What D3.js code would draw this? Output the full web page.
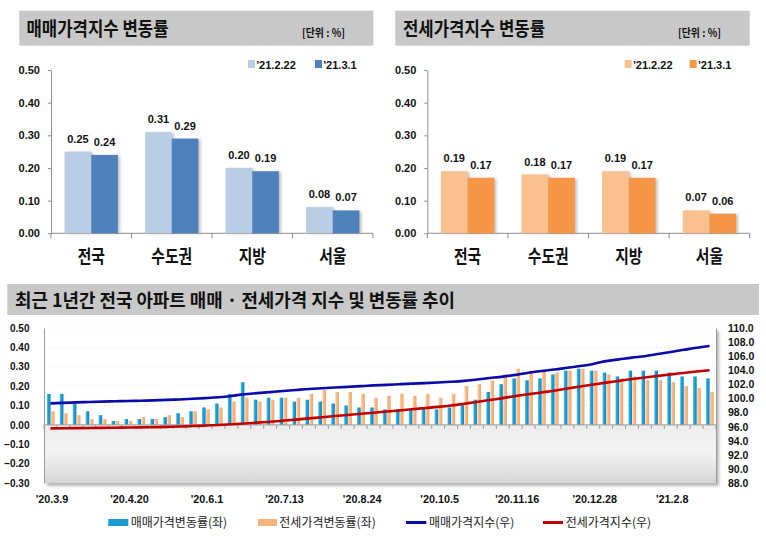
<!DOCTYPE html>
<html><head><meta charset="utf-8">
<script src="https://cdn.jsdelivr.net/npm/d3@7"></script>
<style>
body{margin:0;background:#fff;}
svg{display:block;font-family:"Liberation Sans",Arial,sans-serif;}
.kr{font-family:"Noto Sans CJK KR","Noto Sans",sans-serif;}
</style></head><body>
<svg id="c" width="766" height="538"></svg>
<script>
// ---------- data ----------
const regions = ["전국", "수도권", "지방", "서울"];
const periods = ["'21.2.22", "'21.3.1"];
const saleRatePrev = [0.25, 0.31, 0.20, 0.08];
const saleRateCur = [0.24, 0.29, 0.19, 0.07];
const jeonseRatePrev = [0.19, 0.18, 0.19, 0.07];
const jeonseRateCur = [0.17, 0.17, 0.17, 0.06];
const topTicks = [0, 0.1, 0.2, 0.3, 0.4, 0.5];

const weeks = ["'20.3.9","'20.3.16","'20.3.23","'20.3.30","'20.4.6","'20.4.13","'20.4.20","'20.4.27",
  "'20.5.4","'20.5.11","'20.5.18","'20.5.25","'20.6.1","'20.6.8","'20.6.15","'20.6.22","'20.6.29",
  "'20.7.6","'20.7.13","'20.7.20","'20.7.27","'20.8.3","'20.8.10","'20.8.17","'20.8.24","'20.8.31",
  "'20.9.7","'20.9.14","'20.9.21","'20.9.28","'20.10.5","'20.10.12","'20.10.19","'20.10.26",
  "'20.11.2","'20.11.9","'20.11.16","'20.11.23","'20.11.30","'20.12.7","'20.12.14","'20.12.21",
  "'20.12.28","'21.1.4","'21.1.11","'21.1.18","'21.1.25","'21.2.1","'21.2.8","'21.2.15","'21.2.22","'21.3.1"];
const weekTickLabels = ["'20.3.9","'20.4.20","'20.6.1","'20.7.13","'20.8.24","'20.10.5","'20.11.16","'20.12.28","'21.2.8"];
const saleWeekly = [0.16,0.16,0.11,0.07,0.05,0.02,0.03,0.03,0.03,0.04,0.06,0.07,0.09,0.11,0.16,0.22,
  0.13,0.14,0.14,0.12,0.13,0.12,0.11,0.10,0.09,0.09,0.08,0.08,0.08,0.09,0.08,0.09,0.11,0.13,0.17,0.21,
  0.24,0.23,0.24,0.26,0.28,0.29,0.28,0.27,0.25,0.28,0.28,0.28,0.27,0.25,0.25,0.24];
const jeonseWeekly = [0.07,0.06,0.05,0.03,0.03,0.02,0.02,0.04,0.03,0.05,0.04,0.07,0.08,0.09,0.12,0.14,
  0.12,0.13,0.14,0.14,0.16,0.18,0.17,0.17,0.16,0.14,0.15,0.16,0.15,0.16,0.14,0.16,0.20,0.21,0.23,0.26,
  0.29,0.28,0.28,0.27,0.28,0.29,0.28,0.26,0.24,0.25,0.23,0.23,0.22,0.20,0.19,0.17];
const saleIndex = [99.30,99.37,99.44,99.50,99.55,99.60,99.64,99.68,99.73,99.80,99.86,99.95,100.05,100.17,
  100.35,100.60,100.75,100.90,101.05,101.20,101.35,101.45,101.55,101.65,101.75,101.85,101.93,102.02,
  102.10,102.18,102.27,102.37,102.50,102.70,102.90,103.10,103.35,103.65,103.90,104.10,104.35,104.60,
  104.90,105.30,105.55,105.80,106.00,106.30,106.60,106.90,107.20,107.45];
const jeonseIndex = [95.75,95.77,95.79,95.81,95.83,95.85,95.87,95.90,95.93,95.97,96.02,96.08,96.15,96.23,
  96.33,96.45,96.57,96.70,96.85,97.00,97.17,97.33,97.50,97.66,97.82,97.98,98.14,98.30,98.47,98.64,98.80,
  99.00,99.25,99.50,99.78,100.05,100.35,100.60,100.85,101.10,101.40,101.70,101.98,102.25,102.50,102.75,
  102.98,103.20,103.42,103.62,103.82,104.00];
const leftTicks = [-0.3,-0.2,-0.1,0,0.1,0.2,0.3,0.4,0.5];
const rightTicks = [88,90,92,94,96,98,100,102,104,106,108,110];
const legendBottom = ["매매가격변동률(좌)","전세가격변동률(좌)","매매가격지수(우)","전세가격지수(우)"];

// ---------- setup ----------
const svg = d3.select("#c");
const defs = svg.append("defs");
function hGrad(id, stops){
  const g = defs.append("linearGradient").attr("id",id).attr("x1","0").attr("x2","1").attr("y1","0").attr("y2","0");
  stops.forEach(s=>g.append("stop").attr("offset",s[0]).attr("stop-color",s[1]));
}
function vGrad(id, stops){
  const g = defs.append("linearGradient").attr("id",id).attr("x1","0").attr("x2","0").attr("y1","0").attr("y2","1");
  stops.forEach(s=>g.append("stop").attr("offset",s[0]).attr("stop-color",s[1]));
}
hGrad("gBlue",[["0","#63cdf3"],["0.35","#1fa3d8"],["1","#1683bd"]]);
hGrad("gOrange",[["0","#fcd3ae"],["0.4","#f8b985"],["1","#f2a466"]]);
vGrad("gBelow",[["0","#ececec"],["0.45","#f3f3f3"],["1","#d6d6d6"]]);
const blur = defs.append("filter").attr("id","sh").attr("x","-10%").attr("y","-10%").attr("width","130%").attr("height","130%");
blur.append("feGaussianBlur").attr("stdDeviation",1.6);

// ---------- top panels ----------
function topPanel(o){
  const g = svg.append("g");
  g.append("rect").attr("x",o.boxX).attr("y",10.7).attr("width",o.boxW).attr("height",35).attr("fill","#c8c8c8");
  g.append("text").attr("class","kr").attr("x",o.titleX).attr("y",36).attr("font-size",19).attr("font-weight","bold")
    .attr("textLength",142).attr("lengthAdjust","spacingAndGlyphs").attr("fill","#111").text(o.title);
  g.append("text").attr("class","kr").attr("x",o.unitX).attr("y",36.5).attr("font-size",11).attr("font-weight","bold")
    .attr("textLength",43).attr("lengthAdjust","spacingAndGlyphs").attr("fill","#111").text("[단위 : %]");

  const x = d3.scaleBand().domain(regions).range([o.axisX,o.right]).paddingInner(0.338).paddingOuter(0.169);
  const xs = d3.scaleBand().domain(periods).range([0,x.bandwidth()]);
  const y = d3.scaleLinear().domain([0,0.5]).range([233.3,70]);

  const ya = g.append("g").attr("transform",`translate(${o.axisX},0)`)
    .call(d3.axisLeft(y).tickValues(topTicks).tickFormat(d3.format(".2f")).tickSize(3).tickSizeOuter(0).tickPadding(8));
  ya.select(".domain").attr("stroke","#8c8c8c");
  ya.selectAll(".tick line").attr("stroke","#8c8c8c");
  ya.selectAll(".tick text").attr("font-size",11).attr("font-weight","bold").attr("fill","#111")
    .attr("font-family","Liberation Sans, Arial, sans-serif");

  // x axis line and category boundary ticks
  g.append("line").attr("x1",o.axisX).attr("x2",o.right).attr("y1",y(0)).attr("y2",y(0)).attr("stroke","#8c8c8c");
  const step = x.step();
  g.selectAll("line.bt").data(d3.range(regions.length+1)).join("line").attr("class","bt")
    .attr("x1",i=>o.axisX+i*step).attr("x2",i=>o.axisX+i*step).attr("y1",y(0)).attr("y2",y(0)+5).attr("stroke","#8c8c8c");

  const data = [];
  periods.forEach((p,pi)=>regions.forEach((r,ri)=>data.push({p,r,v:o.values[pi][ri],c:o.colors[pi]})));
  // shadows
  g.selectAll("rect.sh").data(data).join("rect").attr("class","sh")
    .attr("x",d=>x(d.r)+xs(d.p)+2).attr("y",d=>y(d.v)+1).attr("width",xs.bandwidth())
    .attr("height",d=>y(0)-y(d.v)-1).attr("fill","#8a8a8a").attr("opacity",0.55).attr("filter","url(#sh)");
  g.selectAll("rect.bar").data(data).join("rect").attr("class","bar")
    .attr("x",d=>x(d.r)+xs(d.p)).attr("y",d=>y(d.v)).attr("width",xs.bandwidth())
    .attr("height",d=>y(0)-y(d.v)).attr("fill",d=>d.c);
  g.selectAll("text.val").data(data).join("text").attr("class","val")
    .attr("x",d=>x(d.r)+xs(d.p)+xs.bandwidth()/2).attr("y",d=>y(d.v)-9).attr("text-anchor","middle")
    .attr("font-size",11).attr("font-weight","bold").attr("fill","#111").text(d=>d3.format(".2f")(d.v));
  g.selectAll("text.cat").data(regions).join("text").attr("class","cat kr")
    .attr("x",d=>x(d)+x.bandwidth()/2).attr("y",263).attr("text-anchor","middle")
    .attr("font-size",18).attr("font-weight","bold").attr("fill","#111")
    .attr("textLength",d=>d.length*13.6).attr("lengthAdjust","spacingAndGlyphs").text(d=>d);

  // legend
  periods.forEach((p,i)=>{
    g.append("rect").attr("x",o.legendX[i]).attr("y",60).attr("width",7).attr("height",8).attr("fill",o.colors[i]);
    g.append("text").attr("x",o.legendX[i]+8.5).attr("y",68.5).attr("font-size",11).attr("font-weight","bold")
      .attr("fill","#111").text(p);
  });
}
topPanel({title:"매매가격지수 변동률",boxX:19.3,boxW:354,titleX:26.5,unitX:302,axisX:51,right:373,
  legendX:[248,315],colors:["#b9cde5","#4f81bd"],values:[saleRatePrev,saleRateCur]});
topPanel({title:"전세가격지수 변동률",boxX:395.3,boxW:354.4,titleX:403,unitX:678,axisX:427.3,right:749.7,
  legendX:[624.7,689.7],colors:["#fac090","#f79646"],values:[jeonseRatePrev,jeonseRateCur]});

// ---------- bottom panel ----------
const gb = svg.append("g");
gb.append("rect").attr("x",7.3).attr("y",284).attr("width",751.7).attr("height",31).attr("fill","#c8c8c8");
gb.append("text").attr("class","kr").attr("x",15).attr("y",307).attr("font-size",18).attr("font-weight","bold")
  .attr("textLength",440).attr("lengthAdjust","spacingAndGlyphs").attr("fill","#111")
  .text("최근 1년간 전국 아파트 매매 · 전세가격 지수 및 변동률 추이");

const L = 44, R = 716, T = 328, B = 483;
const xb = d3.scaleBand().domain(weeks).range([L,R]);
const yl = d3.scaleLinear().domain([-0.3,0.5]).range([B,T]);
const yr = d3.scaleLinear().domain([88,110]).range([B,T]);

// plot background + shadow
gb.append("rect").attr("x",L+3).attr("y",T+3).attr("width",R-L).attr("height",B-T).attr("fill","#b5b5b5").attr("filter","url(#sh)");
gb.append("rect").attr("x",L).attr("y",T).attr("width",R-L).attr("height",B-T).attr("fill","#fff");
gb.append("rect").attr("x",L).attr("y",yl(0)).attr("width",R-L).attr("height",B-yl(0)).attr("fill","url(#gBelow)");
// grid
gb.selectAll("line.grid").data(leftTicks.filter(t=>t>0)).join("line").attr("class","grid")
  .attr("x1",L).attr("x2",R).attr("y1",d=>yl(d)).attr("y2",d=>yl(d))
  .attr("stroke","#e4e4e4").attr("stroke-dasharray","1,3");

// axes
const la = gb.append("g").attr("transform",`translate(${L},0)`)
  .call(d3.axisLeft(yl).tickValues(leftTicks).tickFormat(d3.format(".2f")).tickSize(0).tickPadding(14.5));
la.select(".domain").attr("stroke","#9a9a9a");
la.selectAll(".tick text").attr("font-size",10).attr("font-weight","bold").attr("fill","#111")
  .attr("font-family","Liberation Sans, Arial, sans-serif");
const ra = gb.append("g").attr("transform",`translate(${R},0)`)
  .call(d3.axisRight(yr).tickValues(rightTicks).tickFormat(d3.format(".1f")).tickSize(0).tickPadding(12));
ra.select(".domain").attr("stroke","#9a9a9a");
ra.selectAll(".tick text").attr("font-size",10.5).attr("font-weight","bold").attr("fill","#111")
  .attr("font-family","Liberation Sans, Arial, sans-serif");

// bars
const bw = xb.bandwidth();
const barW = bw*0.285;
gb.selectAll("rect.sb").data(weeks).join("rect").attr("class","sb")
  .attr("x",(d)=>xb(d)+bw/2-barW+0.1).attr("width",barW)
  .attr("y",(d,i)=>yl(Math.max(0,saleWeekly[i]))).attr("height",(d,i)=>Math.abs(yl(saleWeekly[i])-yl(0)))
  .attr("fill","url(#gBlue)");
gb.selectAll("rect.jb").data(weeks).join("rect").attr("class","jb")
  .attr("x",(d)=>xb(d)+bw/2+0.5).attr("width",barW)
  .attr("y",(d,i)=>yl(Math.max(0,jeonseWeekly[i]))).attr("height",(d,i)=>Math.abs(yl(jeonseWeekly[i])-yl(0)))
  .attr("fill","url(#gOrange)");

// zero line + ticks
gb.append("line").attr("x1",L).attr("x2",R).attr("y1",yl(0)).attr("y2",yl(0)).attr("stroke","#9a9a9a");
gb.selectAll("line.wt").data(d3.range(weeks.length+1)).join("line").attr("class","wt")
  .attr("x1",i=>L+i*xb.step()).attr("x2",i=>L+i*xb.step()).attr("y1",yl(0)).attr("y2",yl(0)+4).attr("stroke","#9a9a9a");

// lines
const line = d3.line().x((d,i)=>xb(weeks[i])+bw/2).y(d=>yr(d)).curve(d3.curveMonotoneX);
gb.append("path").datum(jeonseIndex).attr("d",line).attr("fill","none").attr("stroke","#c00000").attr("stroke-width",2.6);
gb.append("path").datum(saleIndex).attr("d",line).attr("fill","none").attr("stroke","#0a0aa8").attr("stroke-width",2.6);

// x labels
gb.selectAll("text.xl").data(weekTickLabels).join("text").attr("class","xl")
  .attr("x",d=>xb(d)+bw/2+1.5).attr("y",503).attr("text-anchor","middle")
  .attr("font-size",10.8).attr("font-weight","bold").attr("fill","#111").text(d=>d);

// legend
const lg = gb.append("g");
lg.append("rect").attr("x",108.3).attr("y",519).attr("width",20).attr("height",7).attr("fill","#1a9bd3");
lg.append("rect").attr("x",258).attr("y",519).attr("width",19).attr("height",7).attr("fill","#f7b27e");
lg.append("line").attr("x1",406).attr("x2",426.3).attr("y1",522.5).attr("y2",522.5).attr("stroke","#0a0aa8").attr("stroke-width",3);
lg.append("line").attr("x1",543).attr("x2",563).attr("y1",522.5).attr("y2",522.5).attr("stroke","#c00000").attr("stroke-width",3);
const lx = [130.7,279.3,429,565.7];
lg.selectAll("text").data(legendBottom).join("text").attr("class","kr")
  .attr("x",(d,i)=>lx[i]).attr("y",527).attr("font-size",12).attr("fill","#222").text(d=>d);
</script>
</body></html>
